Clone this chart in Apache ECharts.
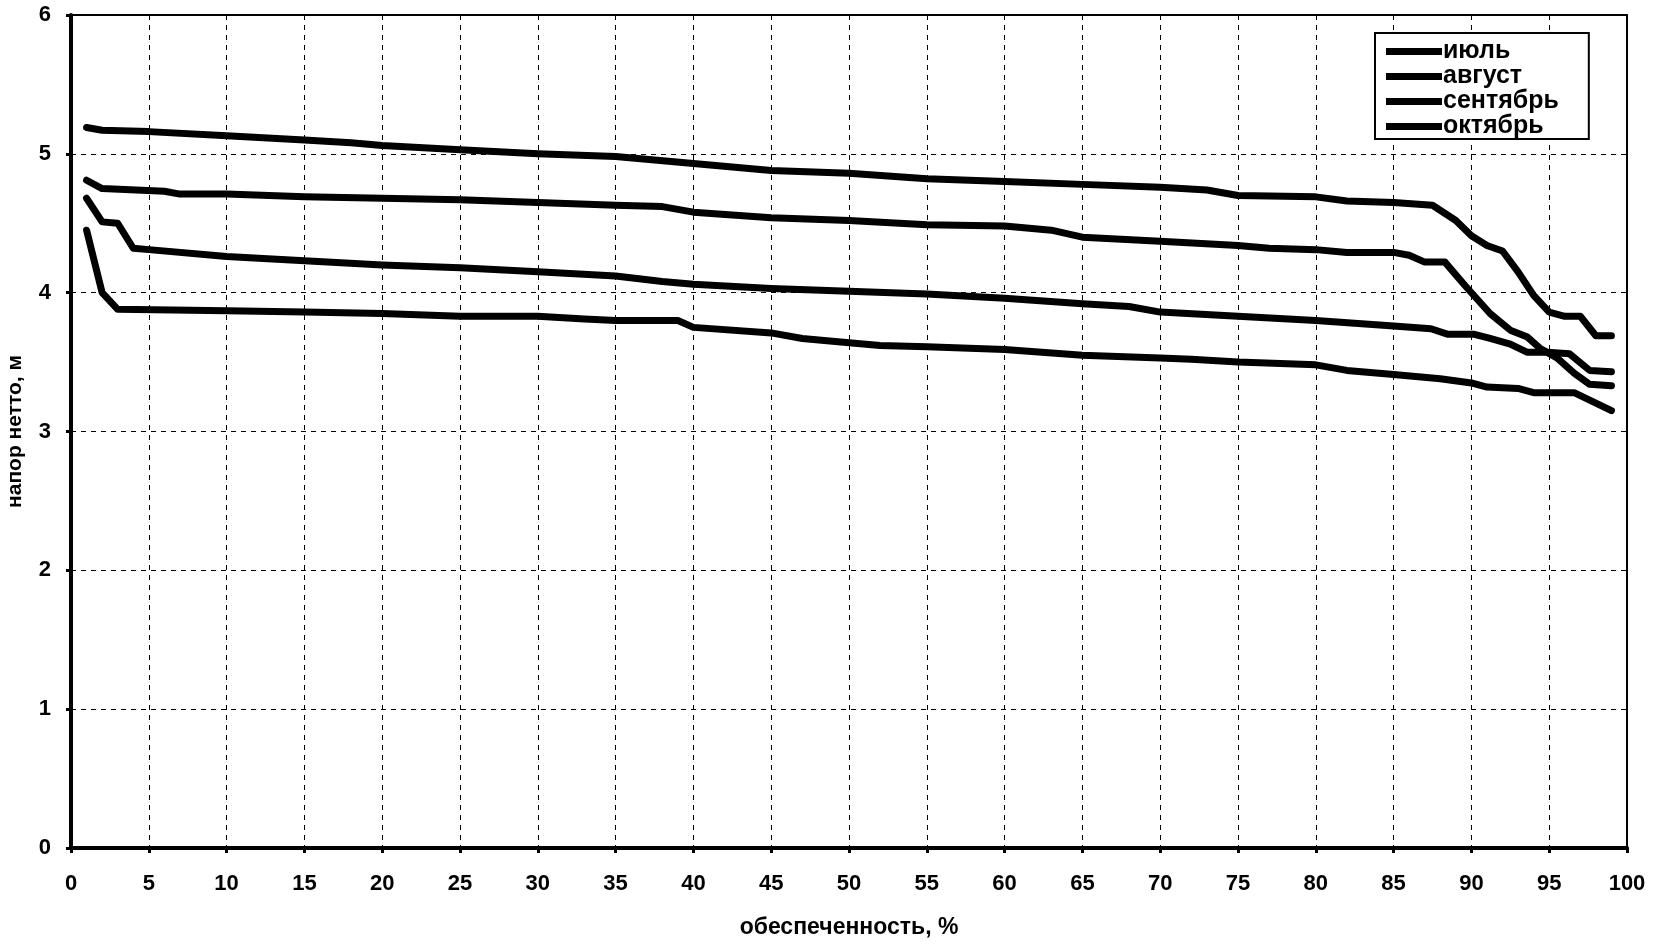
<!DOCTYPE html>
<html><head><meta charset="utf-8">
<script src="https://cdn.jsdelivr.net/npm/echarts@6/dist/echarts.min.js"></script>
<style>html,body{margin:0;padding:0;background:#fff}#c{width:1654px;height:945px}</style>
</head><body><div id="c"></div>
<script>
var seriesNames = ['июль', 'август', 'сентябрь', 'октябрь'];
var xTicks = [0, 100, 5];
var yTicks = [0, 6, 1];
var julyData = [[1,5.19],[2,5.17],[5,5.16],[10,5.13],[15,5.10],[18,5.08],[20,5.06],[25,5.03],[30,5.00],[35,4.98],[40,4.93],[45,4.88],[50,4.86],[55,4.82],[60,4.80],[65,4.78],[70,4.76],[73,4.74],[75,4.70],[80,4.69],[82,4.66],[85,4.65],[87.5,4.63],[89,4.52],[90,4.41],[91,4.34],[92,4.30],[93,4.15],[94,3.98],[95,3.86],[96,3.83],[97,3.83],[98,3.69],[99,3.69]];
var augustData = [[1,4.81],[2,4.75],[6,4.73],[7,4.71],[10,4.71],[15,4.69],[20,4.68],[25,4.67],[30,4.65],[35,4.63],[38,4.62],[40,4.58],[45,4.54],[50,4.52],[55,4.49],[60,4.48],[63,4.45],[65,4.40],[70,4.37],[75,4.34],[77,4.32],[80,4.31],[82,4.29],[85,4.29],[86,4.27],[87,4.22],[88.3,4.22],[89.6,4.05],[91.2,3.85],[92.5,3.73],[93.6,3.68],[94.4,3.60],[95.5,3.53],[96.6,3.42],[97.6,3.34],[99,3.33]];
var septemberData = [[1,4.68],[2,4.51],[3,4.50],[4,4.32],[5,4.31],[10,4.26],[15,4.23],[20,4.20],[25,4.18],[30,4.15],[35,4.12],[38,4.08],[40,4.06],[45,4.03],[50,4.01],[55,3.99],[60,3.96],[65,3.92],[68,3.90],[70,3.86],[75,3.83],[80,3.80],[85,3.76],[87.4,3.74],[88.5,3.70],[90.2,3.70],[91.2,3.67],[92.5,3.63],[93.6,3.57],[94.9,3.57],[96.3,3.56],[97.6,3.44],[99,3.43]];
var octoberData = [[1,4.45],[2,4.00],[3,3.88],[10,3.87],[15,3.86],[20,3.85],[25,3.83],[30,3.83],[33,3.81],[35,3.80],[39,3.80],[40,3.75],[45,3.71],[47,3.67],[50,3.64],[52,3.62],[55,3.61],[60,3.59],[65,3.55],[70,3.53],[72,3.52],[75,3.50],[80,3.48],[82,3.44],[85,3.41],[88,3.38],[90,3.35],[91,3.32],[93,3.31],[94,3.28],[96.6,3.28],[99,3.15]];
var allData = [julyData, augustData, septemberData, octoberData];

var FONT = '"Liberation Sans", Arial, sans-serif';
var chart = echarts.init(document.getElementById('c'), null, {renderer: 'canvas'});
var series = seriesNames.map(function (n, i) {
  return {
    name: n, type: 'line', data: allData[i], showSymbol: false, symbol: 'none',
    lineStyle: {color: '#000', width: 7, cap: 'round', join: 'round'},
    itemStyle: {color: '#000'}, animation: false
  };
});
chart.setOption({
  animation: false,
  backgroundColor: '#fff',
  grid: {left: 71, right: 27, top: 15, bottom: 97, show: true, borderColor: '#000', borderWidth: 2, backgroundColor: 'transparent', outerBoundsMode: 'none', containLabel: false},
  legend: {
    orient: 'vertical', left: 1375, top: 33,
    data: seriesNames,
    icon: 'rect', itemWidth: 56, itemHeight: 7, itemGap: 0,
    backgroundColor: '#fff', borderColor: '#000', borderWidth: 2, borderRadius: 0,
    padding: [6, 30, 0, 11],
    textStyle: {fontFamily: FONT, fontWeight: 'bold', fontSize: 25, color: '#000', lineHeight: 25, padding: [0, 0, 0, -4]},
    itemStyle: {color: '#000'}
  },
  xAxis: {
    type: 'value', min: xTicks[0], max: xTicks[1], interval: xTicks[2],
    name: 'обеспеченность, %', nameLocation: 'middle', nameGap: 68,
    nameTextStyle: {fontFamily: FONT, fontWeight: 'bold', fontSize: 23, color: '#000'},
    axisLine: {show: true, lineStyle: {color: '#000', width: 4}},
    axisTick: {show: true, length: 5, lineStyle: {color: '#000', width: 3}},
    axisLabel: {fontFamily: FONT, fontWeight: 'bold', fontSize: 22, color: '#000', margin: 25},
    splitLine: {show: true, lineStyle: {color: '#000', width: 1, type: [5, 5]}}
  },
  yAxis: {
    type: 'value', min: yTicks[0], max: yTicks[1], interval: yTicks[2],
    name: 'напор нетто, м', nameLocation: 'middle', nameGap: 45, nameRotate: 90,
    nameTextStyle: {fontFamily: FONT, fontWeight: 'bold', fontSize: 21, color: '#000'},
    axisLine: {show: true, lineStyle: {color: '#000', width: 4}},
    axisTick: {show: true, length: 5, lineStyle: {color: '#000', width: 3}},
    axisLabel: {fontFamily: FONT, fontWeight: 'bold', fontSize: 22, color: '#000', margin: 20},
    splitLine: {show: true, lineStyle: {color: '#000', width: 1, type: [5, 5]}}
  },
  series: series
});
</script></body></html>
